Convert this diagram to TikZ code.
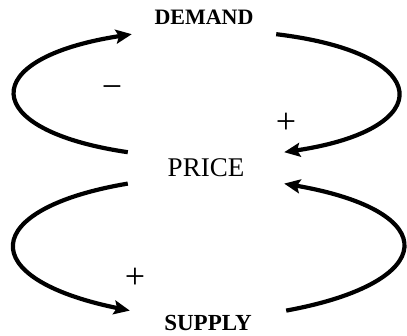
\documentclass[tikz,border=0pt]{standalone}
\usepackage{fontspec}
\setmainfont{Liberation Serif}
\usepackage{tikz}
\usetikzlibrary{arrows.meta, positioning}

\begin{document}
\begin{tikzpicture}[
    x=1pt, y=1pt,
    var/.style={inner sep=0pt, minimum width=156pt, align=center},
    link/.style={-{Stealth[length=16pt, width=14pt, inset=3pt]}, line width=4.2pt},
    sign/.style={font=\fontsize{36}{38}\selectfont}
]
\useasboundingbox (0,0) rectangle (407,336);

% Variables
\node[var, minimum width=144pt, minimum height=33pt, font=\fontsize{22}{24}\selectfont\bfseries] (demand) at (204,318.5) {DEMAND};
\node[var, minimum height=31pt, font=\fontsize{27}{29}\selectfont, below=118pt of demand, xshift=2pt] (price) {PRICE};
\node[var, minimum height=24pt, font=\fontsize{23}{25}\selectfont\bfseries, below=127pt of price, xshift=2pt] (supply) {SUPPLY};

% Loops
\draw[link] (price.north west) .. controls +(-150,22) and +(-156,-24) .. (demand.south west);
\draw[link] (demand.south east) .. controls +(159,-19) and +(155,23) .. (price.north east);
\draw[link] (price.south west) .. controls +(-148,-25) and +(-157,32) .. (supply.north west);
\draw[link] (supply.north east) .. controls +(153,28) and +(161,-28) .. (price.south east);

% Signs
\node[sign] (minus) at (112,244) {\char"2212};
\node[sign] (plusd) at (286,213) {+};
\node[sign] (pluss) at (135,58) {+};

\end{tikzpicture}
\end{document}
